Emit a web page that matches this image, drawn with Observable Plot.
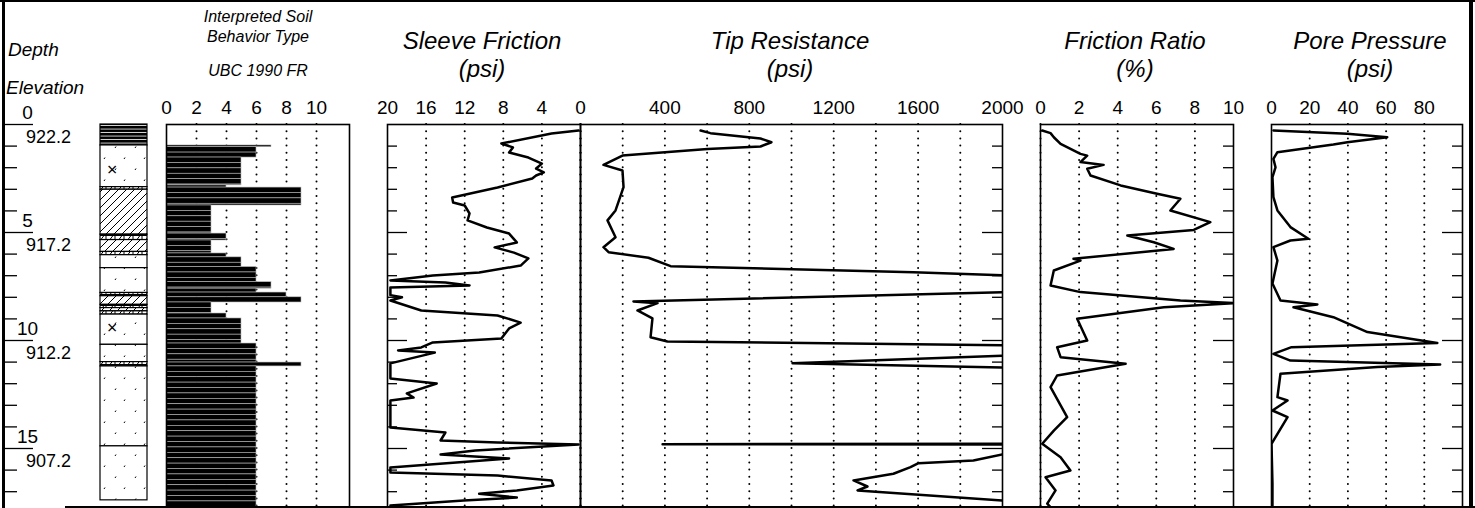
<!DOCTYPE html>
<html><head><meta charset="utf-8">
<script src="https://cdn.jsdelivr.net/npm/d3@7"></script>
<script src="https://cdn.jsdelivr.net/npm/@observablehq/plot@0.6"></script>
<style>
body{margin:0;background:#fff;}
#c{position:relative;width:1475px;height:508px;overflow:hidden;font-family:"Liberation Sans",Arial,sans-serif;}
.t{position:absolute;white-space:nowrap;line-height:1;color:#000;}
.ln{position:absolute;background:#000;}
svg{overflow:visible;}
</style></head><body><div id="c"></div>
<script>
// ---------- data ----------
const depthTicks = [1,2,3,4,6,7,8,9,11,12,13,14,16,17];
const depthMajors = [0,5,10,15];
const elevTop = 922.2;

const sbtTop =    [0.97,1.05,1.53,2.82,2.92,3.75,5.05,5.37,5.97,6.15,6.6,7.3,7.6,7.78,8.0,8.24,8.75,8.98,10.14,11.02,11.2];
const sbtBottom = [1.05,1.53,2.82,2.92,3.75,5.05,5.37,5.97,6.15,6.6,7.3,7.6,7.78,8.0,8.24,8.75,8.98,10.14,11.02,11.2,17.8];
const sbtValue =  [7,6,5,4,9,3,4,3,4,5,6,7,6,8,9,3,4,5,6,9,6];

const lithTop =    [0,0.97,2.9,3.02,5.1,5.35,5.9,6.05,6.65,7.8,7.95,8.35,8.5,8.65,8.8,10.2,11.0,11.2,14.9];
const lithBottom = [0.97,2.9,3.02,5.1,5.35,5.9,6.05,6.65,7.8,7.95,8.35,8.5,8.65,8.8,10.2,11.0,11.2,14.9,17.4];
const lithType =   ["clay","sand","brick","silt","brick","silt","brick","sand","sand","brick","silt","brick","silt","brick","sand","sand","brick","sand","sand"];
const lithMarkDepth = [2.1,9.45];

const fsDepth = [0.28,0.42,0.88,1.06,1.30,1.53,1.81,2.04,2.22,2.36,2.50,2.92,3.38,3.61,3.75,4.12,4.44,4.77,5.05,5.46,5.69,5.93,6.20,6.53,6.85,6.99,7.22,7.31,7.45,7.55,7.9,8.0,8.15,8.61,8.84,9.17,9.44,9.91,10.09,10.32,10.46,10.56,11.06,11.76,11.99,12.45,12.64,12.78,14.03,14.26,14.63,14.72,14.81,15.09,15.28,15.46,15.88,16.11,16.25,16.48,16.71,16.94,17.10,17.27,17.41,17.64];
const fsValue = [0.2,3,8.2,7,7.4,5.4,4,4.6,3.8,4.6,5,8.6,13.3,13.2,12,11.5,11.7,9.7,7.4,6.6,8.9,6.9,5.4,6.2,10.5,15.3,19.7,14,11.5,19.7,19.7,18.5,19.7,16.5,8.6,6.2,7.4,8.2,15.3,16.5,18.9,15.1,19.7,19.7,14.9,18,17.3,19.7,19.7,14,14.5,8.6,0.2,10.9,14.5,7.4,19.7,19.7,8.6,3,2.8,6.6,10.5,6.6,12.1,19.7];

const qcDepth = [0.28,0.40,0.65,0.82,1.02,1.13,1.44,1.87,2.13,2.90,3.98,4.44,5.22,5.68,5.91,6.17,6.56,6.84,7.0,7.2,7.6,7.76,8.19,8.27,8.61,8.98,9.85,10.05,10.22,10.4,10.55,10.69,11.05,11.26,11.5,14.6,14.78,14.8,14.82,15.0,15.17,15.56,15.68,15.86,16.17,16.48,16.76,16.94,17.41,17.7];
const qcValue = [569,616,853,905,853,602,199,109,199,204,166,128,166,109,133,322,427,1578,2050,2600,2600,2020,251,365,270,341,332,412,2050,2600,2600,2050,1005,2050,2600,2600,2050,389,2050,2600,2050,1862,1602,1564,1483,1294,1360,1313,2000,2400];

const frDepth = [0.28,0.40,0.59,0.90,1.36,1.44,1.74,1.87,2.05,2.36,2.82,3.21,3.44,3.98,4.52,4.88,5.14,5.45,5.76,6.22,6.30,6.76,7.45,7.76,8.15,8.27,8.46,8.99,10.0,10.31,10.77,11.08,11.62,12.16,13.55,14.17,14.78,15.40,16.02,16.33,16.94,17.55,17.8];
const frValue = [0.09,0.52,0.69,1.04,2.07,2.42,2.07,3.27,2.42,2.59,4.15,6.04,7.25,6.73,8.8,7.94,4.5,5.87,6.9,1.71,2.07,0.69,0.52,2.07,7.25,10,6.39,1.9,2.42,0.86,1.04,4.41,0.86,0.52,1.38,0.69,0.09,1.04,1.55,0.26,0.78,0.35,0.6];

const uDepth = [0.28,0.43,0.59,0.82,0.93,1.28,1.59,1.98,2.44,3.36,3.98,4.75,5.29,5.37,5.68,6.30,7.36,8.15,8.33,8.46,8.92,9.61,10.12,10.31,10.62,10.93,11.11,11.23,11.54,12.62,12.78,13.24,13.55,14.78,16.62,17.72];
const uValue = [1,39.7,60.6,39.7,32.4,3.1,1,2.1,0.5,1,3.1,9.9,19.3,9.9,1,3.1,0.5,4.7,24,11.5,32.4,50.2,86.8,10.5,1,9.9,88.3,55.4,4.7,3.1,8.4,0.5,8.4,0,0.5,0.5];

// ---------- layout ----------
const W = 1475, H = 508, TOP = 124, PXFT = 21.6;
const DMAX = (H - TOP) / PXFT;
const c = document.getElementById("c");
const zip = (ds, vs) => ds.map((d, i) => ({d, v: vs[i]}));

function txt(s, x, y, size, opt = {}) {
  const e = document.createElement("div");
  e.className = "t"; e.textContent = s;
  e.style.fontSize = size + "px";
  e.style.top = (y - size * 0.55) + "px";
  e.style.left = x + "px";
  if (opt.italic !== false) e.style.fontStyle = "italic";
  if (opt.center !== false) e.style.transform = "translateX(-50%)";
  c.appendChild(e);
}
function line(x, y, w, h) {
  const e = document.createElement("div"); e.className = "ln";
  Object.assign(e.style, {left: x + "px", top: y + "px", width: w + "px", height: h + "px"});
  c.appendChild(e);
}
function place(svg, left) {
  svg.style.position = "absolute"; svg.style.left = left + "px"; svg.style.top = "0px";
  c.appendChild(svg);
}
const dot = {stroke: "black", strokeWidth: 2, strokeDasharray: "0,7.2", strokeLinecap: "round"};

function panel({left, right, domain, grid, labels, side, marks = []}) {
  const width = right - left;
  const upp = (domain[1] - domain[0]) / width;
  const all = [Plot.ruleX(grid, {...dot, y1: 0, y2: DMAX})];
  all.push(...marks);
  if (side) {
    const e = side === "left" ? domain[0] : domain[1];
    const s = side === "left" ? 1 : -1;
    all.push(Plot.ruleY(depthTicks, {y: d => d, x1: e, x2: e + s * 10 * upp, stroke: "black", strokeWidth: 1.3}));
    all.push(Plot.ruleY(depthMajors.slice(1), {y: d => d, x1: e, x2: e + s * 20 * upp, stroke: "black", strokeWidth: 1.3}));
  }
  all.push(Plot.frame({stroke: "black", strokeWidth: 1.6}));
  all.push(Plot.axisX(labels, {anchor: "top", tickSize: 0, tickPadding: 11, fontSize: 19, tickFormat: d => String(d), fill: "black", label: null}));
  const svg = Plot.plot({width, height: H, marginTop: TOP, marginBottom: 0, marginLeft: 0, marginRight: 0,
    style: {overflow: "visible", fontFamily: "Liberation Sans, Arial, sans-serif", color: "black"},
    x: {domain, range: [0, width], label: null}, y: {domain: [0, DMAX], range: [TOP, H], axis: null}, marks: all});
  place(svg, left);
}
const curve = (data) => Plot.line(data, {x: "v", y: "d", stroke: "black", strokeWidth: 2.5, clip: true, strokeLinejoin: "round"});

// SBT
const sbtSlices = [];
sbtTop.forEach((t, i) => {
  for (let a = t; a < sbtBottom[i] - 1e-6; a += 0.25) sbtSlices.push({y1: a, y2: Math.min(a + 0.25, sbtBottom[i]), v: sbtValue[i]});
});
panel({left: 166, right: 349, domain: [0, 12.2], grid: [2, 4, 6, 8, 10], labels: [0, 2, 4, 6, 8, 10],
  marks: [Plot.rect(sbtSlices, {x1: 0, x2: "v", y1: "y1", y2: "y2", fill: "black", stroke: "#bbb", strokeWidth: 0.6, clip: true})]});

// Sleeve friction
panel({left: 387, right: 580, domain: [20, 0], grid: [16, 12, 8, 4, 0], labels: [20, 16, 12, 8, 4, 0], side: "left",
  marks: [curve(zip(fsDepth, fsValue))]});
// Tip resistance
panel({left: 580, right: 1002, domain: [0, 2000], grid: d3.range(0, 2000, 200), labels: [400, 800, 1200, 1600, 2000], side: "right",
  marks: [curve(zip(qcDepth, qcValue))]});
// Friction ratio
panel({left: 1040, right: 1233, domain: [0, 10], grid: [0, 2, 4, 6, 8], labels: [0, 2, 4, 6, 8, 10], side: "right",
  marks: [curve(zip(frDepth, frValue))]});
// Pore pressure
panel({left: 1271, right: 1462, domain: [0, 100], grid: [20, 40, 60, 80], labels: [0, 20, 40, 60, 80], side: "right",
  marks: [curve(zip(uDepth, uValue))]});

// Lithology column
{
  const lith = lithTop.map((t, i) => ({y1: t, y2: lithBottom[i], p: "url(#p-" + lithType[i] + ")"}));
  const svg = Plot.plot({width: 47, height: H, marginTop: TOP, marginBottom: 0, marginLeft: 0, marginRight: 0,
    style: {overflow: "visible"}, x: {domain: [0, 1], range: [0, 47], axis: null}, y: {domain: [0, DMAX], range: [TOP, H], axis: null},
    color: {type: "identity"},
    marks: [
      Plot.rect(lith, {x1: 0, x2: 1, y1: "y1", y2: "y2", fill: "p", stroke: "black", strokeWidth: 1.2}),
      Plot.text(lithMarkDepth, {x: 0.25, y: d => d, text: () => "×", fontSize: 18, fill: "black"})
    ]});
  const defs = d3.select(svg).insert("defs", ":first-child");
  let p = defs.append("pattern").attr("id", "p-clay").attr("patternUnits", "userSpaceOnUse").attr("width", 6).attr("height", 3.5);
  p.append("rect").attr("width", 6).attr("height", 3.5).attr("fill", "black");
  p.append("rect").attr("y", 2.6).attr("width", 6).attr("height", 0.8).attr("fill", "white");
  p = defs.append("pattern").attr("id", "p-sand").attr("patternUnits", "userSpaceOnUse").attr("width", 20).attr("height", 22);
  p.append("rect").attr("width", 20).attr("height", 22).attr("fill", "white");
  p.append("path").attr("d", "M4,5l1,-1.5M15,16l1,-1.5").attr("stroke", "black").attr("stroke-width", 1);
  p = defs.append("pattern").attr("id", "p-silt").attr("patternUnits", "userSpaceOnUse").attr("width", 8).attr("height", 8);
  p.append("rect").attr("width", 8).attr("height", 8).attr("fill", "white");
  p.append("path").attr("d", "M-2,10L10,-2M-2,2L2,-2M6,10L10,6").attr("stroke", "black").attr("stroke-width", 1);
  p = defs.append("pattern").attr("id", "p-brick").attr("patternUnits", "userSpaceOnUse").attr("width", 9).attr("height", 5);
  p.append("rect").attr("width", 9).attr("height", 5).attr("fill", "white");
  p.append("path").attr("d", "M0,0.5H9M0,4.5H9M1,4.5L4,0.5M6,0.5V4.5").attr("stroke", "black").attr("stroke-width", 1);
  place(svg, 100);
}

// Depth axis
{
  const svg = Plot.plot({width: 95, height: H, marginTop: TOP, marginBottom: 0, marginLeft: 0, marginRight: 0,
    style: {overflow: "visible", fontFamily: "Liberation Sans, Arial, sans-serif"},
    x: {domain: [0, 95], range: [0, 95], axis: null}, y: {domain: [0, DMAX], range: [TOP, H], axis: null},
    marks: [
      Plot.ruleY(depthTicks, {y: d => d, x1: 3, x2: 17, stroke: "black", strokeWidth: 1.3}),
      Plot.ruleY(depthMajors, {y: d => d, x1: 3, x2: 33, stroke: "black", strokeWidth: 1.3}),
      Plot.text(depthMajors, {x: 27, y: d => d, text: d => String(d), dy: -12, fontSize: 19, fill: "black"}),
      Plot.text(depthMajors, {x: 48, y: d => d, text: d => (elevTop - d).toFixed(1), dy: 13, fontSize: 18, fill: "black"})
    ]});
  place(svg, 0);
}

// frame lines
line(0, 0, W, 2);
line(2, 0, 3, H);
line(1469, 0, 4, H);
line(65, 506, W - 65, 2);

// titles
txt("Depth", 8, 50, 19, {center: false});
txt("Elevation", 6, 88, 19, {center: false});
txt("Interpreted Soil", 258, 18, 16);
txt("Behavior Type", 258, 38, 16);
txt("UBC 1990 FR", 258, 72, 16);
txt("Sleeve Friction", 482, 42, 24);
txt("(psi)", 482, 70, 24);
txt("Tip Resistance", 790, 42, 24);
txt("(psi)", 790, 70, 24);
txt("Friction Ratio", 1135, 42, 24);
txt("(%)", 1135, 70, 24);
txt("Pore Pressure", 1370, 42, 24);
txt("(psi)", 1370, 70, 24);
</script></body></html>
